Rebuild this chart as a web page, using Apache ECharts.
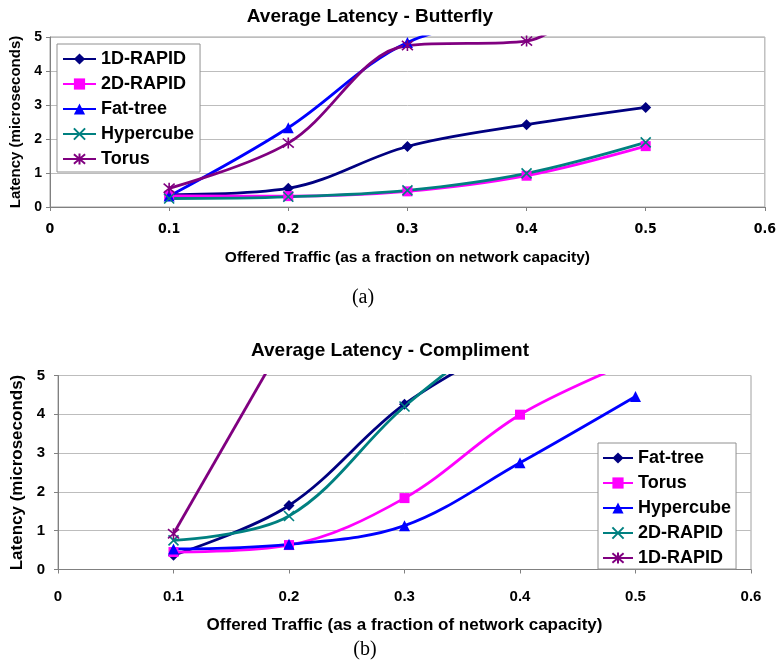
<!DOCTYPE html>
<html>
<head>
<meta charset="utf-8">
<script src="https://cdn.jsdelivr.net/npm/echarts@6/dist/echarts.min.js"></script>
<style>html,body{margin:0;padding:0;background:#fff;}#c{width:779px;height:663px;}</style>
</head>
<body>
<div id="c"></div>
<script>
// ---- Data: (a) Average Latency - Butterfly ----
const xA = [0.1, 0.2, 0.3, 0.4, 0.5];
const a_1D = [0.36, 0.55, 1.78, 2.42, 2.93];
const a_2D = [0.33, 0.32, 0.46, 0.92, 1.79];
const a_Fat = [0.32, 2.33, 4.84, 5.6, 6.5];
const a_Hyper = [0.25, 0.30, 0.49, 0.99, 1.90];
const a_Torus = [0.55, 1.88, 4.75, 4.88, 8.3];
// ---- Data: (b) Average Latency - Compliment ----
const xB = [0.1, 0.2, 0.3, 0.4, 0.5];
const b_Fat = [0.37, 1.65, 4.26, 6.0];
const b_Torus = [0.45, 0.63, 1.84, 3.99, 5.4];
const b_Hyper = [0.53, 0.65, 1.13, 2.75, 4.46];
const b_2D = [0.75, 1.38, 4.2, 6.5];
const b_1D = [0.92, 6.1];
const xTicks = [0, 0.1, 0.2, 0.3, 0.4, 0.5, 0.6];
const yTicks = [0, 1, 2, 3, 4, 5];

const SANS = "'Liberation Sans', Arial, sans-serif";
const NARROW = "'Liberation Sans Narrow', 'Arial Narrow', 'DejaVu Sans Condensed', sans-serif";
const SERIF = "'Liberation Serif', 'Times New Roman', serif";

const C = {navy:'#000080', mag:'#FF00FF', blue:'#0000FF', teal:'#008080', purple:'#800080'};
const X_PATH = 'path://M0,0L10,10M10,0L0,10';
const STAR_PATH = 'path://M0,0L10,10M10,0L0,10M5,-1L5,11';

function pairs(xs, ys){ return ys.map((v,i)=>[xs[i], v]); }
function mk(name, xs, ys, color, symbol, size, gi){
  const stroked = symbol.indexOf('path://')===0;
  return {
    name, type:'line', xAxisIndex:gi, yAxisIndex:gi,
    data: pairs(xs, ys), smooth:0.35, clip:true,
    symbol, symbolSize:size, showAllSymbol:true,
    lineStyle:{color, width:2.8},
    itemStyle: stroked ? {color:'rgba(0,0,0,0)', borderColor:color, borderWidth:1.6} : {color, borderColor:color, borderWidth:0},
    emphasis:{disabled:true}
  };
}

const series = [
  mk('1D-RAPID', xA, a_1D, C.navy, 'diamond', 11, 0),
  mk('2D-RAPID', xA, a_2D, C.mag, 'rect', 10, 0),
  mk('Fat-tree', xA, a_Fat, C.blue, 'triangle', 11, 0),
  mk('Hypercube', xA, a_Hyper, C.teal, X_PATH, 10, 0),
  mk('Torus', xA, a_Torus, C.purple, STAR_PATH, 11, 0),
  mk('b:Fat-tree', xB, b_Fat, C.navy, 'diamond', 11, 1),
  mk('b:Torus', xB, b_Torus, C.mag, 'rect', 10, 1),
  mk('b:Hypercube', xB, b_Hyper, C.blue, 'triangle', 11, 1),
  mk('b:2D-RAPID', xB, b_2D, C.teal, X_PATH, 10, 1),
  mk('b:1D-RAPID', xB, b_1D, C.purple, STAR_PATH, 11, 1)
];

function xAxis(gi, labelFont, labelSize, labelMargin, name, nameFont, nameSize, nameGap){
  return {
    type:'value', gridIndex:gi, min:xTicks[0], max:xTicks[xTicks.length-1], interval:0.1,
    axisLine:{show:true, onZero:false, lineStyle:{color:'#808080', width:1}},
    axisTick:{show:true, length:4, lineStyle:{color:'#808080'}},
    splitLine:{show:false},
    axisLabel:{margin:labelMargin, color:'#000', fontFamily:labelFont, fontWeight:'bold', fontSize:labelSize,
      formatter:v=> v===0 ? '0' : (+v).toFixed(1)},
    name, nameLocation:'middle', nameGap,
    nameTextStyle:{color:'#000', fontFamily:nameFont, fontWeight:'bold', fontSize:nameSize}
  };
}
function yAxis(gi, labelSize, labelMargin, nameSize, nameGap){
  return {
    type:'value', gridIndex:gi, min:yTicks[0], max:yTicks[yTicks.length-1], interval:1,
    axisLine:{show:true, lineStyle:{color:'#808080', width:1}},
    axisTick:{show:true, length:4, lineStyle:{color:'#808080'}},
    splitLine:{show:true, lineStyle:{color:'#bdbdbd', width:1}},
    axisLabel:{margin:labelMargin, color:'#000', fontFamily:SANS, fontWeight:'bold', fontSize:labelSize},
    name:'Latency (microseconds)', nameLocation:'middle', nameGap, nameRotate:90,
    nameTextStyle:{color:'#000', fontFamily:SANS, fontWeight:'bold', fontSize:nameSize}
  };
}

function legend(names, left, top, padding, itemWidth, itemGap){
  return {
    show:true, orient:'vertical', left, top, padding, itemWidth, itemHeight:14, itemGap,
    data:names, selectedMode:false, backgroundColor:'#fff', borderColor:'#909090', borderWidth:1,
    textStyle:{color:'#000', fontFamily:SANS, fontWeight:'bold', fontSize:18, lineHeight:18},
    formatter:n=>n.replace(/^b:/,'')
  };
}

const option = {
  animation:false,
  backgroundColor:'#fff',
  grid:[
    {left:50, top:37, right:11, height:170, show:true, borderColor:'#a0a0a0', borderWidth:1, backgroundColor:'#fff'},
    {left:58, top:375.5, right:28, height:194, show:true, borderColor:'#a0a0a0', borderWidth:1, backgroundColor:'#fff'}
  ],
  xAxis:[
    xAxis(0, NARROW, 14, 15, 'Offered Traffic (as a fraction on network capacity)', SANS, 15.5, 43),
    xAxis(1, SANS, 15, 20, 'Offered Traffic (as a fraction of network capacity)', SANS, 17, 47)
  ],
  yAxis:[
    yAxis(0, 14, 8, 15, 24),
    yAxis(1, 15, 13, 17, 30)
  ],
  legend:[
    legend(['1D-RAPID','2D-RAPID','Fat-tree','Hypercube','Torus'], 57, 44, [6,6,4,5], 33, 7),
    legend(['b:Fat-tree','b:Torus','b:Hypercube','b:2D-RAPID','b:1D-RAPID'], 598, 443, [6,5,2,4], 30, 7)
  ],
  graphic:[
    {type:'text', x:370, y:17, style:{text:'Average Latency - Butterfly', fill:'#000', font:'bold 19px '+SANS, textAlign:'center', textVerticalAlign:'middle'}},
    {type:'text', x:390, y:351, style:{text:'Average Latency - Compliment', fill:'#000', font:'bold 19px '+SANS, textAlign:'center', textVerticalAlign:'middle'}},
    {type:'text', x:363, y:298, style:{text:'(a)', fill:'#000', font:'20px '+SERIF, textAlign:'center', textVerticalAlign:'middle'}},
    {type:'text', x:365, y:650, style:{text:'(b)', fill:'#000', font:'20px '+SERIF, textAlign:'center', textVerticalAlign:'middle'}}
  ],
  series
};

const chart = echarts.init(document.getElementById('c'), null, {renderer:'canvas'});
chart.setOption(option);
</script>
</body>
</html>
